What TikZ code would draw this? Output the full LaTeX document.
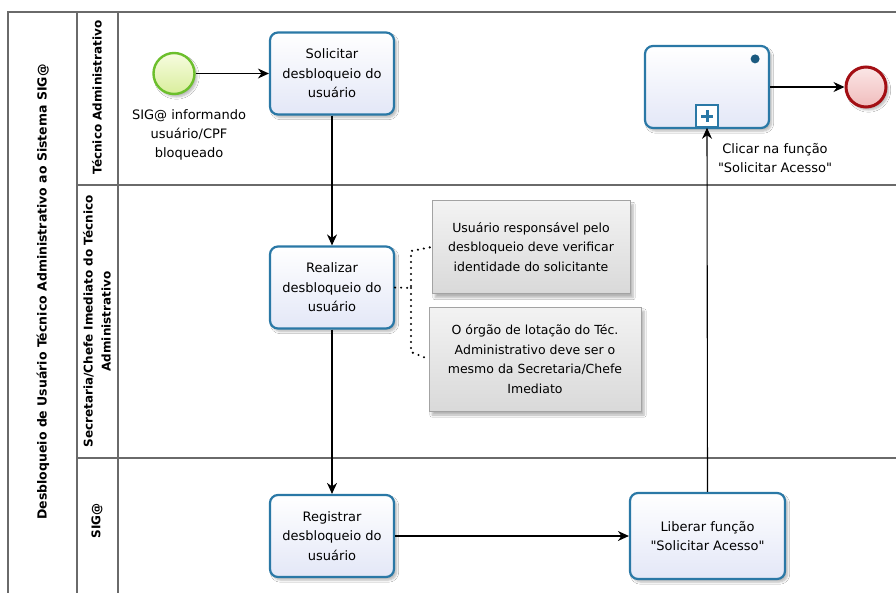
\documentclass[tikz,border=0pt]{standalone}
\usepackage{fontspec}
\setmainfont{DejaVu Sans}
\usetikzlibrary{shadows.blur,arrows.meta}
\definecolor{taskblue}{HTML}{2A78A6}
\definecolor{taskfill}{HTML}{E3E7F7}
\definecolor{dotblue}{HTML}{1B5A80}
\definecolor{framegray}{HTML}{6A6A6A}
\definecolor{startgreen}{HTML}{6CBF2C}
\definecolor{startfill}{HTML}{D9EE9C}
\definecolor{starttop}{HTML}{F7FCE0}
\definecolor{endred}{HTML}{A30F14}
\definecolor{endfill}{HTML}{F0BCBC}
\definecolor{endtop}{HTML}{FBE6E6}
\definecolor{annborder}{HTML}{A3A3A3}
\definecolor{anntop}{HTML}{F3F3F3}
\definecolor{annbot}{HTML}{D9D9D9}
\begin{document}
\begin{tikzpicture}[x=1pt,y=-1pt,
  frame/.style={draw=framegray, line width=1.2pt},
  task/.style={rectangle, rounded corners=8pt, draw=taskblue, line width=2.2pt,
    top color=white, bottom color=taskfill, minimum width=124pt, minimum height=82pt,
    align=center, inner sep=2pt, font={\fontsize{13}{19.5}\selectfont},
    blur shadow={shadow xshift=2.5pt, shadow yshift=-3pt, shadow opacity=28, shadow blur steps=6}},
  annot/.style={rectangle, draw=annborder, line width=0.8pt,
    top color=anntop, bottom color=annbot, align=center,
    font={\fontsize{12.5}{19.5}\selectfont},
    blur shadow={shadow xshift=3pt, shadow yshift=-4pt, shadow opacity=30, shadow blur steps=6}},
  flow/.style={draw=black, line width=1.1pt, -{Stealth[length=11pt,width=10pt]}},
  assoc/.style={draw=black, line width=2.3pt, line cap=round, dash pattern=on 0pt off 6pt},
  lanetitle/.style={rotate=90, font={\bfseries\fontsize{12}{18}\selectfont}, align=center},
  lbl/.style={align=center, font={\fontsize{13}{19}\selectfont}}
]
\useasboundingbox (0,0) rectangle (896,592);
\fill[white] (0,0) rectangle (896,592);

% pool and lanes
\draw[frame] (896,12) -- (8,12) -- (8,600);
\draw[frame] (77,12) -- (77,600);
\draw[frame] (118,12) -- (118,600);
\draw[frame] (77,185) -- (896,185);
\draw[frame] (77,458) -- (896,458);

\node[lanetitle, font={\bfseries\fontsize{12.5}{18}\selectfont}] (pool) at (43,292) {Desbloqueio de Usuário Técnico Administrativo ao Sistema SIG@};
\node[lanetitle] (l1) at (97,97.5) {Técnico Administrativo};
\node[lanetitle] (l2) at (97,321.5) {Secretaria/Chefe Imediato do Técnico\\Administrativo};
\node[lanetitle] (l3) at (97,521) {SIG@};

% start event
\node[circle, draw=startgreen, line width=2.4pt, top color=starttop, bottom color=startfill,
  minimum size=41pt, inner sep=0pt,
  blur shadow={shadow xshift=2.5pt, shadow yshift=-3pt, shadow opacity=28, shadow blur steps=6}] (start) at (174,73.5) {};
\node[lbl] (startlbl) at (189,134.5) {SIG@ informando\\usuário/CPF\\bloqueado};

% tasks
\node[task] (sol) at (332,73.5) {Solicitar\\desbloqueio do\\usuário};
\node[task] (rea) at (332,287.5) {Realizar\\desbloqueio do\\usuário};
\node[task] (reg) at (332,536) {Registrar\\desbloqueio do\\usuário};
\node[task, minimum width=155pt, minimum height=86pt] (lib) at (707.5,536) {Liberar função\\\textquotedbl Solicitar Acesso\textquotedbl};

% collapsed subprocess
\node[task] (sub) at (707,87) {};
\node[draw=taskblue, line width=1.6pt, fill=white, minimum size=22pt, inner sep=0pt] (mk) at (707,116) {};
\draw[taskblue, line width=3pt] (mk.center) ++(-6,0) -- ++(12,0);
\draw[taskblue, line width=3pt] (mk.center) ++(0,-6) -- ++(0,12);
\fill[dotblue] (sub.north east) ++(-15,14) circle (4.5);
\node[lbl] (sublbl) at (775,158.5) {Clicar na função\\\textquotedbl Solicitar Acesso\textquotedbl};

% end event
\node[circle, draw=endred, line width=3pt, top color=endtop, bottom color=endfill,
  minimum size=40pt, inner sep=0pt,
  blur shadow={shadow xshift=2.5pt, shadow yshift=-3pt, shadow opacity=28, shadow blur steps=6}] (end) at (866,87) {};

% annotations
\node[annot, minimum width=198pt, minimum height=93pt] (ann1) at (531,247) {Usuário responsável pelo\\desbloqueio deve verificar\\identidade do solicitante};
\node[annot, minimum width=212pt, minimum height=104pt] (ann2) at (535,359) {O órgão de lotação do Téc.\\Administrativo deve ser o\\mesmo da Secretaria/Chefe\\Imediato};

% associations
\coordinate (br) at (411,288);
\coordinate (bu) at (411,251);
\coordinate (bd) at (411,352);
\draw[assoc] (rea.east) -- (br) -- (bu) -- (ann1.west);
\draw[assoc] (br) -- (bd) -- (ann2.west);

% sequence flows
\draw[flow] (start) -- (sol);
\draw[flow] (sol) -- (rea);
\draw[flow] (rea) -- (reg);
\draw[flow] (reg) -- (lib);
\draw[flow] (lib.north) -- (mk.south);
\draw[flow] (sub) -- (end);
\end{tikzpicture}
\end{document}
